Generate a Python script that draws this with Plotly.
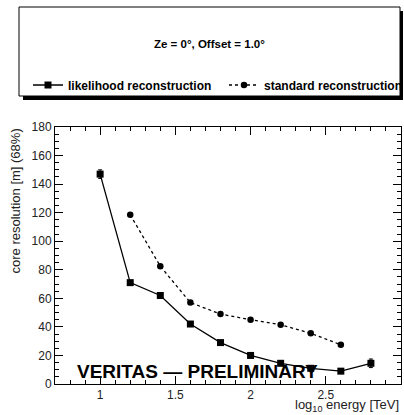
import plotly.graph_objects as go

# ---- data ----
lik_x = [1.0, 1.2, 1.4, 1.6, 1.8, 2.0, 2.2, 2.4, 2.6, 2.8]
lik_y = [147, 71, 62, 42, 29, 20, 14.5, 11, 9, 14.5]
lik_err = [3, 1.5, 1.5, 1, 1, 1, 1, 1, 1, 3]

std_x = [1.2, 1.4, 1.6, 1.8, 2.0, 2.2, 2.4, 2.6]
std_y = [118.5, 82.5, 57, 49, 45, 41.5, 35.5, 27.5]

x_ticks = [1, 1.5, 2, 2.5, 3]
x_ticklabels = ["1", "1.5", "2", "2.5", "3"]
y_ticks = list(range(0, 181, 20))

W, H = 404, 415
L, R, T, B = 55, 3, 127, 31
PW, PH = W - L - R, H - T - B
FONT = "Liberation Sans, Arial, sans-serif"


def px(x):
    return (x - L) / PW


def py(y):
    return (H - B - y) / PH


fig = go.Figure()
fig.add_trace(go.Scatter(
    x=lik_x, y=lik_y, mode="lines+markers", name="<b>likelihood reconstruction</b>",
    line=dict(color="black", width=1.3),
    marker=dict(symbol="square", size=7, color="black"),
    error_y=dict(type="data", array=lik_err, color="black", thickness=1, width=2),
    legend="legend",
))
fig.add_trace(go.Scatter(
    x=std_x, y=std_y, mode="lines+markers", name="<b>standard reconstruction</b>",
    line=dict(color="black", width=1.3, dash="dot"),
    marker=dict(symbol="circle", size=6.5, color="black"),
    legend="legend2",
))

axis_common = dict(
    showgrid=False, zeroline=False, showline=True, linecolor="black", linewidth=1,
    mirror="ticks", ticks="inside", ticklen=8, tickcolor="black", tickwidth=1,
    tickfont=dict(family=FONT, size=12, color="#222"),
)
fig.update_xaxes(range=[0.7, 3.0], tickvals=x_ticks, ticktext=x_ticklabels,
                 minor=dict(dtick=0.1, tick0=0, ticks="inside", ticklen=4, tickcolor="black"),
                 **axis_common)
fig.update_yaxes(range=[0, 180], tickvals=y_ticks,
                 minor=dict(dtick=5, tick0=0, ticks="inside", ticklen=4, tickcolor="black"),
                 **axis_common)

# legend box with shadow
fig.add_shape(type="rect", xref="paper", yref="paper",
              x0=px(23), x1=px(403), y0=py(11), y1=py(100),
              fillcolor="black", line=dict(width=0), layer="below")
fig.add_shape(type="rect", xref="paper", yref="paper",
              x0=px(19), x1=px(400), y0=py(7), y1=py(96),
              fillcolor="white", line=dict(color="black", width=1), layer="below")

fig.add_annotation(text="<b>Ze = 0°, Offset = 1.0°</b>", xref="paper", yref="paper",
                   x=px(209), y=py(44), showarrow=False, xanchor="center", yanchor="middle",
                   font=dict(family=FONT, size=11.5, color="black"))

fig.add_annotation(text="core resolution [m] (68%)", xref="paper", yref="paper",
                   x=px(15), y=1, showarrow=False, textangle=-90,
                   xanchor="center", yanchor="top",
                   font=dict(family=FONT, size=13, color="#222"))
fig.add_annotation(text="log<sub>10</sub> energy [TeV]", xref="paper", yref="paper",
                   x=1, y=py(405.5), showarrow=False, xanchor="right", yanchor="middle",
                   font=dict(family=FONT, size=13, color="#222"))
fig.add_annotation(text="<b>VERITAS — PRELIMINARY</b>", xref="paper", yref="paper",
                   x=px(197), y=py(371), showarrow=False, xanchor="center", yanchor="middle",
                   font=dict(family=FONT, size=19, color="black"))

leg_common = dict(orientation="h", xref="container", yref="container",
                  xanchor="left", yanchor="middle",
                  bgcolor="rgba(0,0,0,0)", borderwidth=0,
                  font=dict(family=FONT, size=12, color="black"))

fig.update_layout(
    width=W, height=H, margin=dict(l=L, r=R, t=T, b=B),
    paper_bgcolor="white", plot_bgcolor="white",
    showlegend=True,
    legend=dict(x=28 / W, y=1 - 85 / H, **leg_common),
    legend2=dict(x=224 / W, y=1 - 85 / H, **leg_common),
)

fig.write_html("out.html")
